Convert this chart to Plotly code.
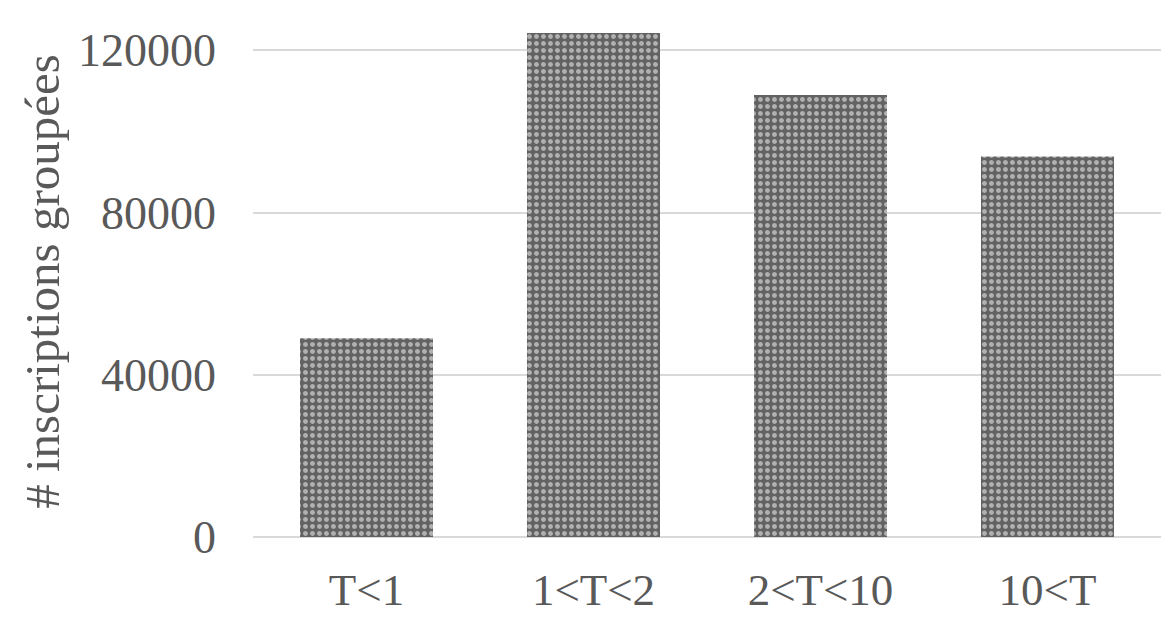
import plotly.graph_objects as go

categories = ["T<1", "1<T<2", "2<T<10", "10<T"]
values = [49000, 124300, 109000, 93800]
y_ticks = [0, 40000, 80000, 120000]

font_family = "Liberation Serif, Times New Roman, serif"
text_color = "#595959"

fig = go.Figure(
    go.Bar(
        x=categories,
        y=values,
        marker=dict(
            color="#666666",
            line=dict(width=0),
            pattern=dict(shape=".", bgcolor="#626262", fgcolor="#ffffff", size=7, solidity=0.4),
        ),
    )
)

fig.update_layout(
    width=1176,
    height=640,
    margin=dict(l=245, r=23, t=18, b=111, autoexpand=False),
    paper_bgcolor="white",
    plot_bgcolor="white",
    bargap=0.414,
    showlegend=False,
    font=dict(family=font_family, color=text_color, size=45),
)

fig.update_xaxes(
    showgrid=False,
    showline=False,
    zeroline=False,
    ticks="",
    ticklabelstandoff=22,
    tickfont=dict(size=45, family=font_family, color=text_color),
)

fig.update_yaxes(
    range=[0, 126000],
    tickvals=y_ticks,
    ticktext=[str(v) for v in y_ticks],
    showgrid=True,
    gridcolor="#d9d9d9",
    gridwidth=2,
    zeroline=True,
    zerolinecolor="#d9d9d9",
    zerolinewidth=2,
    showline=False,
    ticks="",
    ticklabelstandoff=36,
    tickfont=dict(size=46, family=font_family, color=text_color),
    title=dict(text="# inscriptions groupées", font=dict(size=49, family=font_family, color=text_color), standoff=2),
    automargin=False,
)

fig.write_html("out.html")
